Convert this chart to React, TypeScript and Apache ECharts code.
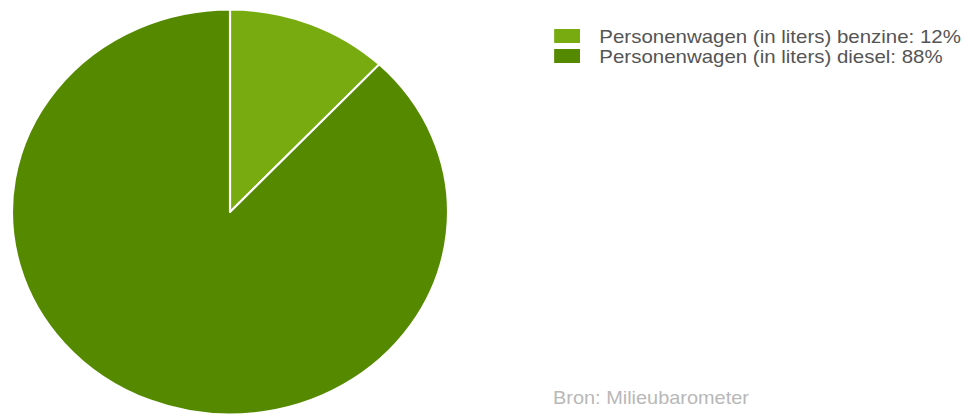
import React, { useEffect, useRef } from "react";
import * as echarts from "echarts";

const categories = ["Personenwagen (in liters) benzine", "Personenwagen (in liters) diesel"];
const values = [12, 88];
const colors = ["#78ab10", "#558900"];
const sourceText = "Bron: Milieubarometer";

const STRETCH = 436 / 405;
const W = 971 / STRETCH;

export default function App() {
  const ref = useRef<HTMLDivElement>(null);
  useEffect(() => {
    if (!ref.current) return;
    const chart = echarts.init(ref.current, null, { renderer: "svg" });
    const total = values.reduce((a, b) => a + b, 0);
    chart.setOption({
      animation: false,
      backgroundColor: "#ffffff",
      color: colors,
      legend: {
        orient: "vertical",
        left: 552 / STRETCH,
        top: 26,
        padding: 0,
        itemWidth: 26,
        itemHeight: 16,
        itemGap: 0,
        icon: "rect",
        data: categories,
        formatter: (name: string) => {
          const i = categories.indexOf(name);
          return `${name}: ${Math.round((values[i] / total) * 100)}%`;
        },
        textStyle: {
          fontFamily: "Liberation Sans",
          fontSize: 19,
          lineHeight: 20,
          color: "#555555",
          padding: [0, 0, 0, 12],
        },
      },
      graphic: [
        {
          type: "text",
          left: 553 / STRETCH,
          top: 388,
          style: { text: sourceText, fontFamily: "Liberation Sans", fontSize: 18.5, fill: "#b8b8b8" },
        },
      ],
      series: [
        {
          type: "pie",
          center: [230 / STRETCH, 212],
          radius: 202.5,
          startAngle: 90,
          clockwise: true,
          label: { show: false },
          labelLine: { show: false },
          itemStyle: { borderColor: "#ffffff", borderWidth: 2 },
          emphasis: { disabled: true },
          data: categories.map((c, i) => ({ name: c, value: values[i] })),
        },
      ],
    });
    return () => chart.dispose();
  }, []);
  return (
    <div style={{ position: "absolute", left: 0, top: 0, width: 971, height: 418, overflow: "hidden", background: "#fff" }}>
      <div
        ref={ref}
        style={{ width: W, height: 418, transform: `scaleX(${STRETCH})`, transformOrigin: "0 0" }}
      />
    </div>
  );
}
